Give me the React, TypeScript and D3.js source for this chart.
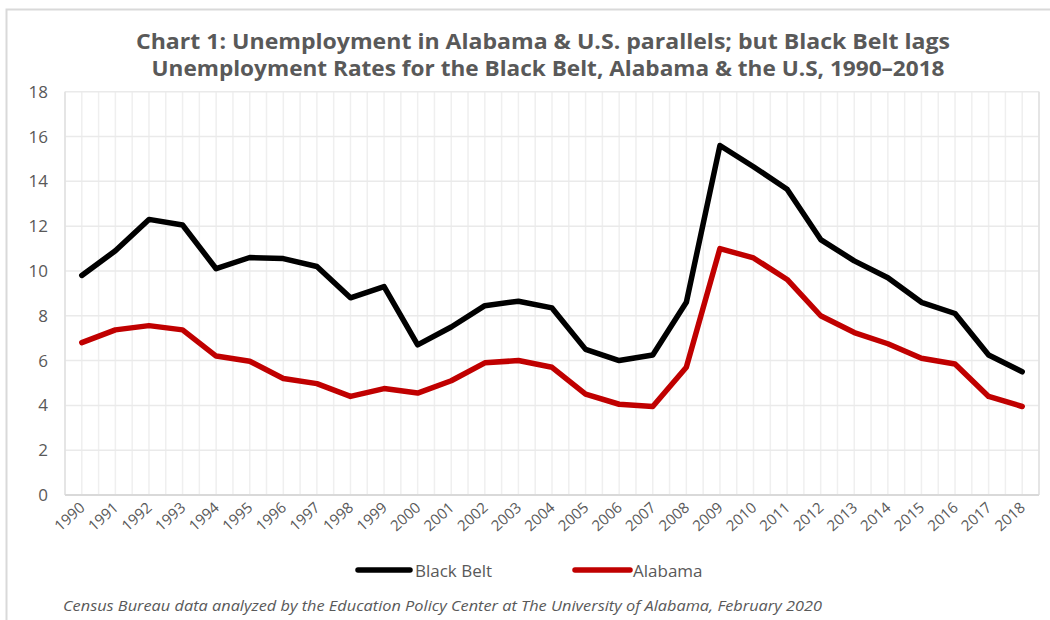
import React from "react";
import * as d3 from "d3";

const years: string[] = ["1990","1991","1992","1993","1994","1995","1996","1997","1998","1999","2000","2001","2002","2003","2004","2005","2006","2007","2008","2009","2010","2011","2012","2013","2014","2015","2016","2017","2018"];
const blackBelt: number[] = [9.8,10.9,12.3,12.05,10.1,10.6,10.55,10.2,8.8,9.3,6.7,7.5,8.45,8.65,8.35,6.5,6.0,6.25,8.6,15.6,14.65,13.65,11.4,10.45,9.7,8.6,8.1,6.25,5.5];
const alabama: number[] = [6.8,7.37,7.56,7.37,6.2,5.97,5.2,4.97,4.4,4.75,4.55,5.1,5.9,6.0,5.7,4.5,4.05,3.95,5.7,11.0,10.58,9.62,8.0,7.25,6.75,6.1,5.85,4.4,3.95];
const yTicks: number[] = [0,2,4,6,8,10,12,14,16,18];
const seriesNames: string[] = ["Black Belt","Alabama"];
const seriesColors: string[] = ["#000000","#c00000"];
const titleLines: string[] = [
  "Chart 1:  Unemployment in Alabama & U.S. parallels; but Black Belt lags",
  "Unemployment Rates for the Black Belt, Alabama & the U.S, 1990–2018",
];
const footer = "Census Bureau data analyzed by the Education Policy Center at The University of Alabama, February 2020";

export default function App() {
  const W = 1050, H = 620;
  const left = 65, right = 1039, top = 91.7, bottom = 495;
  const x = d3.scaleBand<string>().domain(years).range([left, right]).padding(0);
  const y = d3.scaleLinear().domain([0, 18]).range([bottom, top]);
  const bw = x.bandwidth();
  const cx = (yr: string) => (x(yr) as number) + bw / 2;
  const line = d3.line<number>().x((_, i) => cx(years[i])).y(d => y(d));
  const gridX: number[] = [];
  years.forEach(yr => { gridX.push(x(yr) as number); gridX.push(cx(yr)); });
  gridX.push(right);
  const font = "'Open Sans', 'DejaVu Sans', sans-serif";
  const series = [blackBelt, alabama];
  const legendPos = [{ x1: 358, x2: 410, tx: 415 }, { x1: 575, x2: 630, tx: 633 }];

  return (
    <svg width={W} height={H} style={{ position: "absolute", left: 0, top: 0, background: "#fff" }}>
      <rect x={6.5} y={9.5} width={1060} height={640} fill="#fff" stroke="#d9d9d9" strokeWidth={2} />
      {titleLines.map((t, i) => (
        <text key={i} x={i === 0 ? 543 : 548} y={i === 0 ? 48.5 : 75.5} textAnchor="middle"
          fontFamily={font} fontWeight="bold" fontSize={21} fill="#595959"
          textLength={i === 0 ? 814 : 793} lengthAdjust="spacingAndGlyphs">{t}</text>
      ))}
      {gridX.map((gx, i) => (
        <line key={"gx" + i} x1={gx} x2={gx} y1={top} y2={bottom} stroke="#efefef" strokeWidth={1.5} />
      ))}
      {yTicks.map(t => (
        <line key={"gy" + t} x1={left} x2={right} y1={y(t)} y2={y(t)} stroke="#eaeaea" strokeWidth={1.5} />
      ))}
      <line x1={left} x2={left} y1={top} y2={bottom} stroke="#e0e0e0" strokeWidth={1.5} />
      <line x1={right} x2={right} y1={top} y2={bottom} stroke="#e0e0e0" strokeWidth={1.5} />
      <line x1={left} x2={right} y1={bottom} y2={bottom} stroke="#d9d9d9" strokeWidth={2} />
      {yTicks.map(t => (
        <text key={"yl" + t} x={48} y={y(t) + 6} textAnchor="end" fontFamily={font} fontSize={17} fill="#595959">{t}</text>
      ))}
      {years.map(yr => (
        <text key={"xl" + yr} transform={`translate(${cx(yr) + 4},${bottom + 14}) rotate(-42)`} textAnchor="end"
          fontFamily={font} fontSize={15} fill="#595959">{yr}</text>
      ))}
      {series.map((s, i) => (
        <path key={"s" + i} d={line(s) || ""} fill="none" stroke={seriesColors[i]} strokeWidth={5.5}
          strokeLinejoin="round" strokeLinecap="round" />
      ))}
      {seriesNames.map((n, i) => (
        <g key={"lg" + i}>
          <line x1={legendPos[i].x1} x2={legendPos[i].x2} y1={570} y2={570} stroke={seriesColors[i]} strokeWidth={5.5} strokeLinecap="round" />
          <text x={legendPos[i].tx} y={577} fontFamily={font} fontSize={17} fill="#595959">{n}</text>
        </g>
      ))}
      <text x={63} y={611} fontFamily={font} fontStyle="italic" fontSize={14} fill="#595959"
        textLength={759} lengthAdjust="spacingAndGlyphs">{footer}</text>
    </svg>
  );
}
